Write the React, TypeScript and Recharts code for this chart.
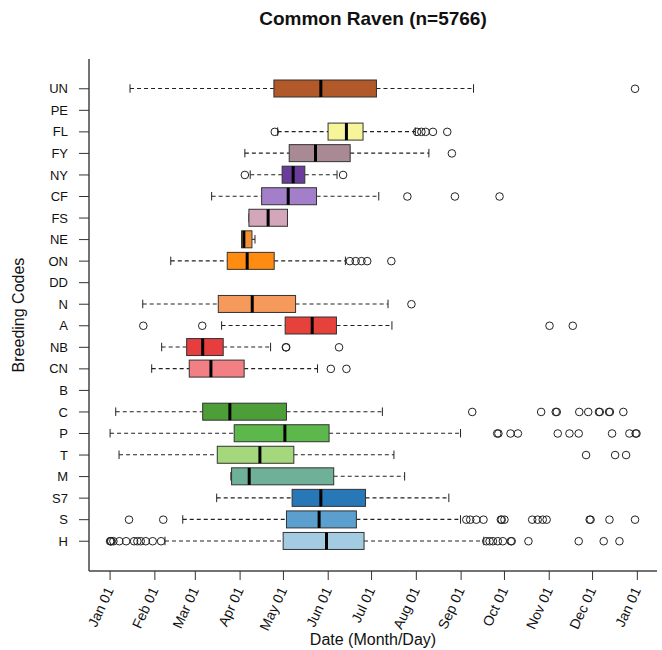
import { ComposedChart, Bar, Scatter, XAxis, YAxis } from 'recharts';

// breeding codes, top to bottom
const codes = ['UN', 'PE', 'FL', 'FY', 'NY', 'CF', 'FS', 'NE', 'ON', 'DD', 'N', 'A', 'NB', 'CN', 'B', 'C', 'P', 'T', 'M', 'S7', 'S', 'H'];

// box stats in day-of-year (0 = Jan 01)
const lowWhisker = [13.8, null, 116, 93.3, 97, 70.3, 96.1, 91, 42, null, 22.6, 77.2, 35.7, 28.8, null, 3.9, 0, 6.2, 83.6, 73.8, 50.3, 38];
const q1 = [113.4, null, 150.9, 124, 119.1, 104.9, 96.1, 91, 81.1, null, 74.9, 121.2, 53, 54.8, null, 64.1, 85.9, 74.2, 84.1, 126, 122.1, 119.8];
const median = [145.9, null, 163.6, 142.2, 126.7, 123.3, 109.4, 92.6, 94.9, null, 98.4, 139.9, 64.1, 69.8, null, 82.9, 121, 103.7, 96.3, 145.9, 144.7, 149.8];
const q3 = [184.4, null, 175.1, 166.2, 134.8, 142.9, 122.8, 98.2, 113.6, null, 128.4, 156.7, 78.3, 92.8, null, 122.1, 151.6, 127.2, 154.8, 176.8, 170.5, 175.8];
const highWhisker = [251.6, null, 211.3, 220.7, 157.1, 186, 122.8, 100.3, 162.9, null, 192.4, 195.1, 111.1, 143.6, null, 188.5, 242.6, 196.5, 203.9, 234.5, 242.6, 258.7];

const outliers: number[][] = [
  [363.4],
  [],
  [114, 212.5, 215.5, 218.4, 223.5, 233.4],
  [236.6],
  [93.3, 161.3],
  [205.8, 238.7, 269.6],
  [],
  [],
  [166, 170, 174, 178, 194.7],
  [],
  [208.6],
  [23, 63.8, 304.2, 320.3],
  [121.7, 121.9, 158.5],
  [152.8, 163.6],
  [],
  [250.7, 298.4, 308.5, 309.2, 324.8, 331, 338.4, 339, 345.4, 346, 355.3],
  [268, 268.8, 277.2, 282.3, 309.9, 318, 324.4, 347.5, 359.5, 363.8, 364.4],
  [329.5, 349.6, 357.2],
  [],
  [],
  [13.1, 36.8, 246.6, 249.3, 253.5, 258.5, 270.5, 271.1, 273, 292.2, 296, 299.5, 302.2, 332, 332.6, 345.7, 363.4],
  [0, 0.4, 0.8, 2.3, 6.4, 11.1, 16.6, 18.9, 21.2, 24.7, 29.5, 35.3, 260.4, 262.7, 265, 268.4, 271.9, 277.4, 278, 289.6, 324.4, 341.7, 352.6],
];

const tickDays = [0, 31, 59, 90, 120, 151, 181, 212, 243, 273, 304, 334, 365];
const tickLabels = ['Jan 01', 'Feb 01', 'Mar 01', 'Apr 01', 'May 01', 'Jun 01', 'Jul 01', 'Aug 01', 'Sep 01', 'Oct 01', 'Nov 01', 'Dec 01', 'Jan 01'];

const boxColors: Record<string, string> = {
  UN: '#b15928', FL: '#f6f59a', FY: '#a98a94', NY: '#6a3d9a', CF: '#a47fc9',
  FS: '#d3a6ba', NE: '#f39235', ON: '#ff8c10', N: '#f59a5a', A: '#e6413b',
  NB: '#e63d3f', CN: '#f27f83', C: '#4d9e38', P: '#5cb84a', T: '#a5d87c',
  M: '#6fb098', S7: '#2878b8', S: '#5a9fce', H: '#a3cbe1',
};

const FONT = '"Liberation Sans", Arial, sans-serif';
const DOMAIN: [number, number] = [-14.6, 378.6];

const rows = codes.map((code, i) => ({
  code,
  lo: lowWhisker[i],
  q1: q1[i],
  med: median[i],
  q3: q3[i],
  hi: highWhisker[i],
  range: lowWhisker[i] == null ? null : [lowWhisker[i], highWhisker[i]],
}));

const outlierPoints = codes.flatMap((code, i) => outliers[i].map((day) => ({ code, day })));

// draws whiskers + box + median inside the band the Bar gets for [lo, hi]
function BoxShape(props: any) {
  const { x, y, width, height, payload } = props;
  if (payload == null || payload.lo == null) return null;
  const span = payload.hi - payload.lo;
  const px = (v: number) => x + ((v - payload.lo) / span) * width;
  const cy = y + height / 2;
  const cap = height / 4;
  const xl = px(payload.lo), x1 = px(payload.q1), xm = px(payload.med), x3 = px(payload.q3), xh = px(payload.hi);
  return (
    <g>
      <line x1={xl} y1={cy} x2={x1} y2={cy} stroke="#222" strokeWidth={1.1} strokeDasharray="4 3" />
      <line x1={x3} y1={cy} x2={xh} y2={cy} stroke="#222" strokeWidth={1.1} strokeDasharray="4 3" />
      <line x1={xl} y1={cy - cap} x2={xl} y2={cy + cap} stroke="#222" />
      <line x1={xh} y1={cy - cap} x2={xh} y2={cy + cap} stroke="#222" />
      <rect x={x1} y={y} width={x3 - x1} height={height} fill={boxColors[payload.code]} stroke="#333" strokeWidth={1} />
      <line x1={xm} y1={y} x2={xm} y2={y + height} stroke="#000" strokeWidth={3} />
    </g>
  );
}

function DateTick({ x, y, index }: any) {
  const ax = x + 4;
  const ay = y + 8;
  return (
    <text x={ax} y={ay} transform={`rotate(-65, ${ax}, ${ay})`} textAnchor="end" fontSize={14} fontFamily={FONT} fill="#111">
      {tickLabels[index]}
    </text>
  );
}

export default function App() {
  return (
    <div style={{ position: 'absolute', left: 0, top: 0, width: 662, height: 650, background: '#fff' }}>
      <div style={{ position: 'absolute', left: 89, top: 8, width: 568, textAlign: 'center', fontFamily: FONT, fontWeight: 'bold', fontSize: 19, color: '#111' }}>
        Common Raven (n=5766)
      </div>
      <ComposedChart
        width={662}
        height={650}
        layout="vertical"
        data={rows}
        margin={{ top: 59, right: 5, bottom: 0, left: 0 }}
      >
        <XAxis
          type="number"
          domain={DOMAIN}
          allowDataOverflow
          ticks={tickDays}
          tick={<DateTick />}
          tickSize={9}
          height={79}
          interval={0}
          axisLine={{ stroke: '#444', strokeWidth: 1.5 }}
          tickLine={{ stroke: '#333' }}
          label={{ value: 'Date (Month/Day)', position: 'insideBottom', offset: 5, fontSize: 16, fill: '#111', fontFamily: FONT }}
        />
        <XAxis xAxisId="top" orientation="top" type="number" domain={DOMAIN} height={0} tick={false} tickLine={false} axisLine={{ stroke: '#444', strokeWidth: 1.5 }} />
        <YAxis
          type="category"
          dataKey="code"
          allowDuplicatedCategory={false}
          width={89}
          padding={{ top: 19, bottom: 19 }}
          interval={0}
          tickSize={10}
          tickMargin={11}
          tick={{ fontSize: 13, fill: '#111', fontFamily: FONT }}
          axisLine={{ stroke: '#444', strokeWidth: 1.5 }}
          tickLine={{ stroke: '#333' }}
          label={{ value: 'Breeding Codes', angle: -90, position: 'insideLeft', offset: 18, fontSize: 16, fill: '#111', fontFamily: FONT, style: { textAnchor: 'middle' } }}
        />
        <YAxis yAxisId="right" orientation="right" type="number" domain={[0, 1]} width={0} tick={false} tickLine={false} axisLine={{ stroke: '#444', strokeWidth: 1.5 }} />
        <Bar dataKey="range" barSize={17} shape={<BoxShape />} isAnimationActive={false} />
        <Scatter
          data={outlierPoints}
          dataKey="day"
          isAnimationActive={false}
          shape={(p: any) => <circle cx={p.cx} cy={p.cy} r={3.8} fill="none" stroke="#222" strokeWidth={1} />}
        />
      </ComposedChart>
    </div>
  );
}
